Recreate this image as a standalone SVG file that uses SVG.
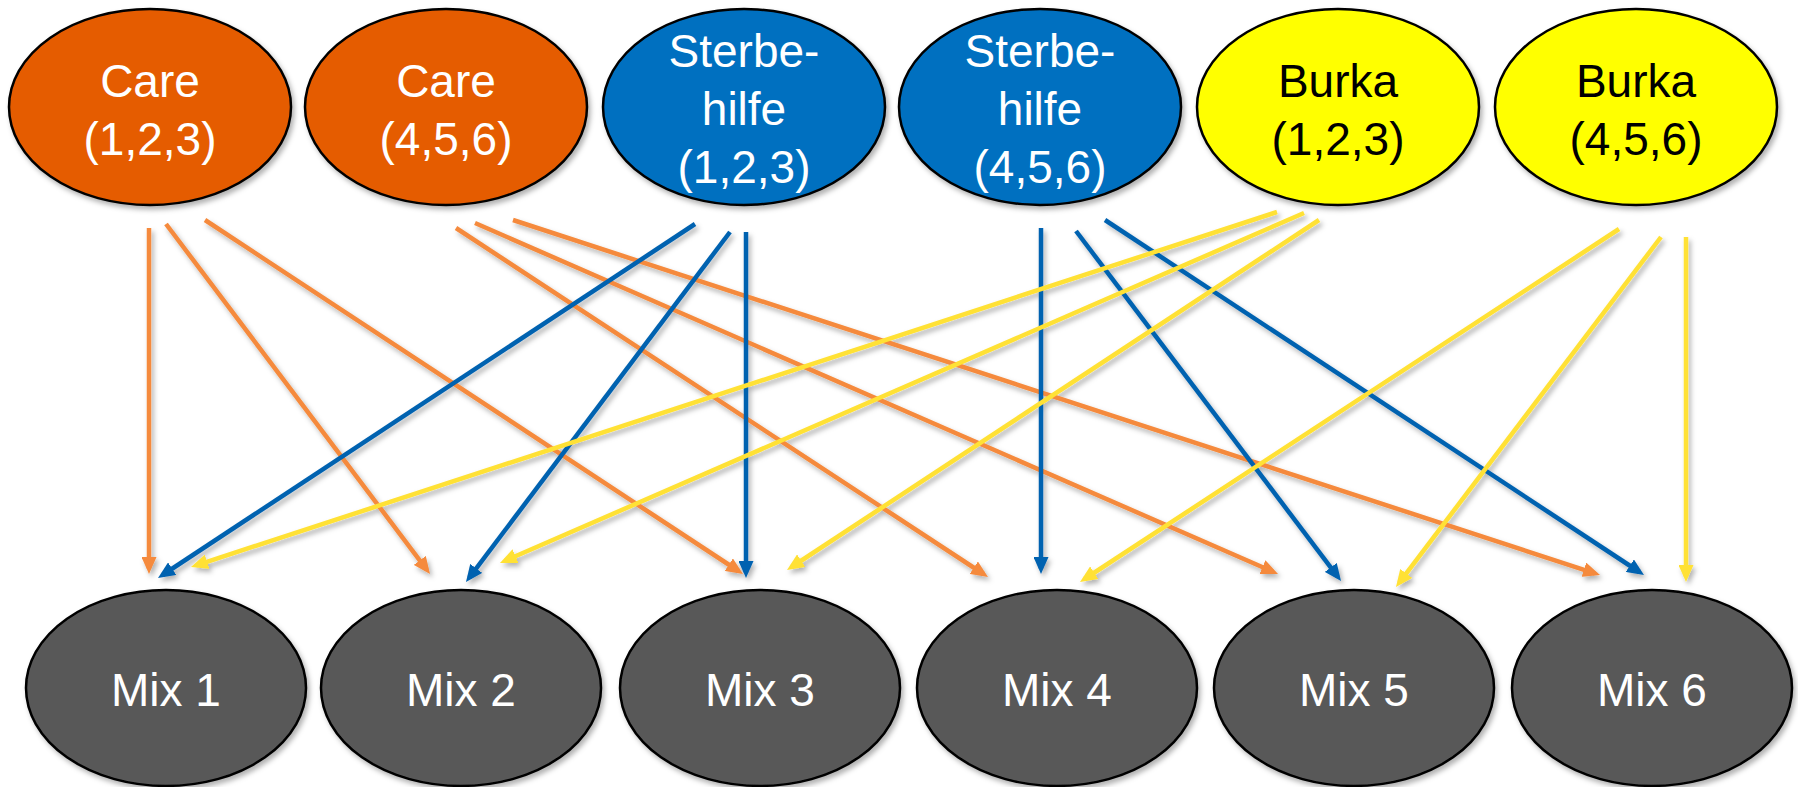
<svg xmlns="http://www.w3.org/2000/svg" width="1798" height="787" viewBox="0 0 1798 787">
<style>
.n{stroke:#000;stroke-width:2.5;filter:url(#sh)}
.or{fill:#E55C00}.bl{fill:#0070C0}.ye{fill:#FFFF00}.gr{fill:#595959}
.t{font-family:"Liberation Sans",Arial,sans-serif;font-size:46px;text-anchor:middle}
.w{fill:#fff}.k{fill:#000}
.c{fill:none;stroke-width:4.5}
.co{stroke:#F58A3C}.cb{stroke:#0562B0}.cy{stroke:#FFE135}
</style>
<defs>
<filter id="sh" x="-10%" y="-10%" width="130%" height="130%">
<feDropShadow dx="2.5" dy="3.5" stdDeviation="2.5" flood-color="#000" flood-opacity="0.3"/>
</filter>
<marker id="ao" markerUnits="userSpaceOnUse" markerWidth="17" markerHeight="15" refX="11.5" refY="7.5" orient="auto"><path d="M0,0 L17,7.5 L0,15 z" fill="#F58A3C"/></marker>
<marker id="ab" markerUnits="userSpaceOnUse" markerWidth="17" markerHeight="15" refX="11.5" refY="7.5" orient="auto"><path d="M0,0 L17,7.5 L0,15 z" fill="#0562B0"/></marker>
<marker id="ay" markerUnits="userSpaceOnUse" markerWidth="17" markerHeight="15" refX="11.5" refY="7.5" orient="auto"><path d="M0,0 L17,7.5 L0,15 z" fill="#FFE135"/></marker>
</defs>
<rect width="1798" height="787" fill="#fff"/>
<g id="connectors" filter="url(#sh)">
<g class="c co" marker-end="url(#ao)">
<line x1="149" y1="228" x2="149" y2="568.5"/>
<line x1="166" y1="224" x2="426.7" y2="569.6"/>
<line x1="205" y1="220" x2="738.4" y2="571"/>
<line x1="456" y1="228" x2="983.4" y2="574"/>
<line x1="475" y1="223" x2="1273" y2="571.8"/>
<line x1="513" y1="220" x2="1594.8" y2="573.3"/>
</g>
<g class="c cb" marker-end="url(#ab)">
<line x1="695" y1="224" x2="162.6" y2="575"/>
<line x1="730" y1="232" x2="469.3" y2="577.6"/>
<line x1="746" y1="232" x2="746" y2="572.5"/>
<line x1="1041" y1="228" x2="1041" y2="568.5"/>
<line x1="1076" y1="231" x2="1337.7" y2="576.6"/>
<line x1="1105" y1="220" x2="1639.4" y2="572"/>
</g>
<g class="c cy" marker-end="url(#ay)">
<line x1="1277" y1="212" x2="196.2" y2="565.3"/>
<line x1="1304" y1="213" x2="505" y2="560.8"/>
<line x1="1319" y1="220" x2="791.6" y2="567"/>
<line x1="1619" y1="229" x2="1084.6" y2="579"/>
<line x1="1661" y1="237" x2="1399.3" y2="582.6"/>
<line x1="1686" y1="237" x2="1686" y2="576.5"/>
</g>
</g>
<g id="care123"><ellipse class="n or" cx="150" cy="107" rx="141" ry="98"/><text class="t w" x="150" y="97">Care</text><text class="t w" x="150" y="155">(1,2,3)</text></g>
<g id="care456"><ellipse class="n or" cx="446" cy="107" rx="141" ry="98"/><text class="t w" x="446" y="97">Care</text><text class="t w" x="446" y="155">(4,5,6)</text></g>
<g id="sterbe123"><ellipse class="n bl" cx="744" cy="107" rx="141" ry="98"/><text class="t w" x="744" y="67">Sterbe-</text><text class="t w" x="744" y="125">hilfe</text><text class="t w" x="744" y="183">(1,2,3)</text></g>
<g id="sterbe456"><ellipse class="n bl" cx="1040" cy="107" rx="141" ry="98"/><text class="t w" x="1040" y="67">Sterbe-</text><text class="t w" x="1040" y="125">hilfe</text><text class="t w" x="1040" y="183">(4,5,6)</text></g>
<g id="burka123"><ellipse class="n ye" cx="1338" cy="107" rx="141" ry="98"/><text class="t k" x="1338" y="97">Burka</text><text class="t k" x="1338" y="155">(1,2,3)</text></g>
<g id="burka456"><ellipse class="n ye" cx="1636" cy="107" rx="141" ry="98"/><text class="t k" x="1636" y="97">Burka</text><text class="t k" x="1636" y="155">(4,5,6)</text></g>
<g id="mix1"><ellipse class="n gr" cx="166" cy="688" rx="140" ry="98"/><text class="t w" x="166" y="706">Mix 1</text></g>
<g id="mix2"><ellipse class="n gr" cx="461" cy="688" rx="140" ry="98"/><text class="t w" x="461" y="706">Mix 2</text></g>
<g id="mix3"><ellipse class="n gr" cx="760" cy="688" rx="140" ry="98"/><text class="t w" x="760" y="706">Mix 3</text></g>
<g id="mix4"><ellipse class="n gr" cx="1057" cy="688" rx="140" ry="98"/><text class="t w" x="1057" y="706">Mix 4</text></g>
<g id="mix5"><ellipse class="n gr" cx="1354" cy="688" rx="140" ry="98"/><text class="t w" x="1354" y="706">Mix 5</text></g>
<g id="mix6"><ellipse class="n gr" cx="1652" cy="688" rx="140" ry="98"/><text class="t w" x="1652" y="706">Mix 6</text></g>
</svg>
